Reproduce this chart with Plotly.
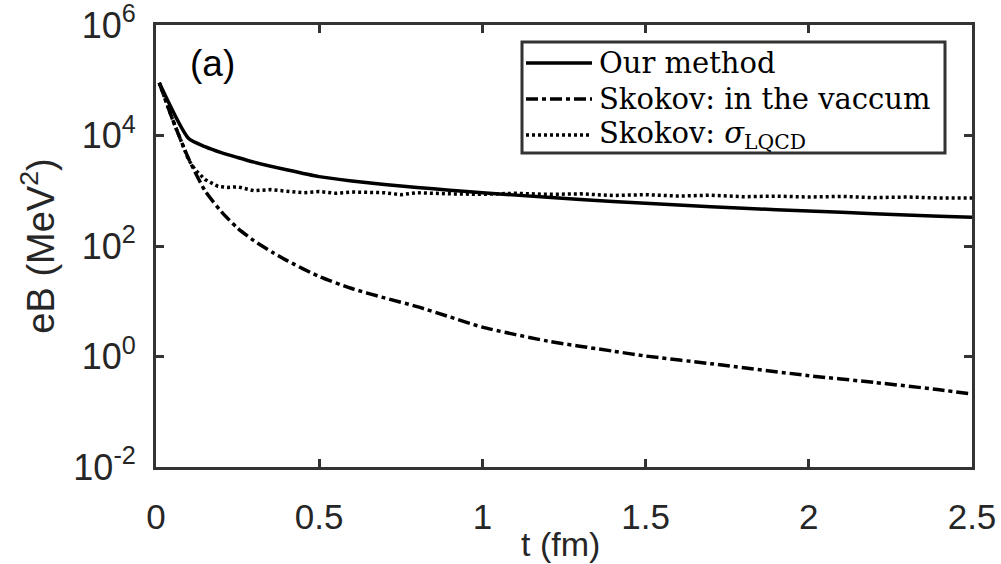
import plotly.graph_objects as go

# Time grid (fm) and field strength eB (MeV^2) for each curve
t_ours = [0.01, 0.1, 0.15, 0.2, 0.25, 0.3, 0.4, 0.5, 0.6, 0.7, 0.8, 0.9, 1.0,
          1.2, 1.4, 1.6, 1.8, 2.0, 2.2, 2.4, 2.5]
eb_ours = [9.0e4, 8.8e3, 6.3e3, 4.9e3, 4.0e3, 3.3e3, 2.4e3, 1.8e3, 1.5e3, 1.3e3,
           1.15e3, 1.02e3, 920, 760, 640, 550, 480, 430, 385, 345, 330]

t_vac = [0.01, 0.05, 0.1, 0.15, 0.2, 0.25, 0.3, 0.36, 0.4, 0.5, 0.6, 0.7, 0.8,
         0.9, 1.0, 1.2, 1.4, 1.5, 1.7, 2.0, 2.2, 2.4, 2.5]
eb_vac = [9.0e4, 2.0e4, 3.8e3, 1.0e3, 420, 210, 125, 75, 55, 28, 17, 11.5, 8.0,
          5.2, 3.4, 1.9, 1.25, 1.02, 0.74, 0.45, 0.34, 0.25, 0.21]

t_lqcd = [0.01, 0.05, 0.1, 0.12, 0.15, 0.19, 0.22, 0.25, 0.3, 0.35, 0.4, 0.45,
          0.5, 0.55, 0.6, 0.7, 0.75, 0.8, 0.9, 1.0, 1.1, 1.2, 1.3, 1.4, 1.5,
          1.6, 1.7, 1.8, 1.9, 2.0, 2.1, 2.2, 2.3, 2.4, 2.5]
eb_lqcd = [9.0e4, 2.0e4, 3.6e3, 2.4e3, 1.6e3, 1.2e3, 1.15e3, 1.18e3, 1.0e3,
           1.05e3, 980, 920, 970, 900, 950, 920, 850, 920, 880, 860, 900, 860,
           880, 820, 850, 800, 830, 780, 800, 770, 790, 750, 770, 740, 740]

x_ticks = [0, 0.5, 1, 1.5, 2, 2.5]
x_tick_text = ["0", "0.5", "1", "1.5", "2", "2.5"]
y_ticks = [1e-2, 1e0, 1e2, 1e4, 1e6]
y_tick_text = ["10<sup>-2</sup>", "10<sup>0</sup>", "10<sup>2</sup>",
               "10<sup>4</sup>", "10<sup>6</sup>"]

names = ["Our method", "Skokov: in the vaccum",
         "Skokov: <i>σ</i><sub>LQCD</sub>"]
dashes = ["solid", "12px,4px,4px,4px", "3px,3px"]

AXIS = "#333333"
TEXT = "#262626"
SANS = "Liberation Sans, Arial, sans-serif"
SERIF = "DejaVu Serif, serif"

W, H = 1001, 564
ML, MR, MT, MB = 156, 29, 25, 97
PW, PH = W - ML - MR, H - MT - MB


def px_to_paper(px, py):
    """Pixel position in the page -> paper coordinates of the plot area."""
    return (px - ML) / PW, 1 - (py - MT) / PH


fig = go.Figure()
fig.add_trace(go.Scatter(x=t_ours, y=eb_ours, mode="lines", name=names[0],
                         line=dict(color="black", width=3.5, shape="spline",
                                   smoothing=0.6, dash=dashes[0])))
fig.add_trace(go.Scatter(x=t_vac, y=eb_vac, mode="lines", name=names[1],
                         line=dict(color="black", width=3.5, shape="spline",
                                   smoothing=0.6, dash=dashes[1])))
fig.add_trace(go.Scatter(x=t_lqcd, y=eb_lqcd, mode="lines", name=names[2],
                         line=dict(color="black", width=3.5, dash=dashes[2])))

# Panel tag
ax, ay = px_to_paper(212, 63)
fig.add_annotation(x=ax, y=ay, xref="paper", yref="paper", text="(a)",
                   showarrow=False, xanchor="center", yanchor="middle",
                   font=dict(family=SANS, size=37, color="black"))

# x-axis title placed under the tick labels
tx, ty = px_to_paper(560, 544)
fig.add_annotation(x=tx, y=ty, xref="paper", yref="paper", text="t (fm)",
                   showarrow=False, xanchor="center", yanchor="middle",
                   font=dict(family=SANS, size=34, color=TEXT))

# Boxed legend in the upper right of the axes
x0, y0 = px_to_paper(522, 42)
x1, y1 = px_to_paper(945, 153)
fig.add_shape(type="rect", xref="paper", yref="paper", x0=x0, y0=y1, x1=x1,
              y1=y0, line=dict(color=AXIS, width=3), fillcolor="white",
              layer="above")
row_y = [63, 99, 135]
for name, dash, ry in zip(names, dashes, row_y):
    lx0, ly = px_to_paper(526, ry)
    lx1, _ = px_to_paper(592, ry)
    fig.add_shape(type="line", xref="paper", yref="paper", x0=lx0, x1=lx1,
                  y0=ly, y1=ly, layer="above",
                  line=dict(color="black", width=3.5, dash=dash))
    txx, _ = px_to_paper(597, ry)
    fig.add_annotation(x=txx, y=ly, xref="paper", yref="paper", text=name,
                       showarrow=False, xanchor="left", yanchor="middle",
                       font=dict(family=SERIF, size=29, color="black"))

fig.update_layout(
    width=W, height=H,
    margin=dict(l=ML, r=MR, t=MT, b=MB, autoexpand=False),
    paper_bgcolor="white", plot_bgcolor="white",
    showlegend=False,
    xaxis=dict(range=[0, 2.5], tickvals=x_ticks, ticktext=x_tick_text,
               automargin=False, ticklabeloverflow="allow",
               ticks="inside", ticklen=8, tickwidth=3, tickcolor=AXIS,
               showline=True, linecolor=AXIS, linewidth=3, mirror="ticks",
               showgrid=False, zeroline=False, ticklabelstandoff=17,
               tickfont=dict(family=SANS, size=35, color=TEXT)),
    yaxis=dict(type="log", range=[-2.00001, 6.00001], tickvals=y_ticks,
               ticktext=y_tick_text, automargin=False,
               ticklabeloverflow="allow",
               ticks="inside", ticklen=8, tickwidth=3, tickcolor=AXIS,
               showline=True, linecolor=AXIS, linewidth=3, mirror="ticks",
               showgrid=False, zeroline=False, ticklabelstandoff=10,
               tickfont=dict(family=SANS, size=36, color=TEXT),
               title=dict(text="eB (MeV<sup>2</sup>)", standoff=8,
                          font=dict(family=SANS, size=38, color=TEXT))),
)

fig.write_html("out.html")
